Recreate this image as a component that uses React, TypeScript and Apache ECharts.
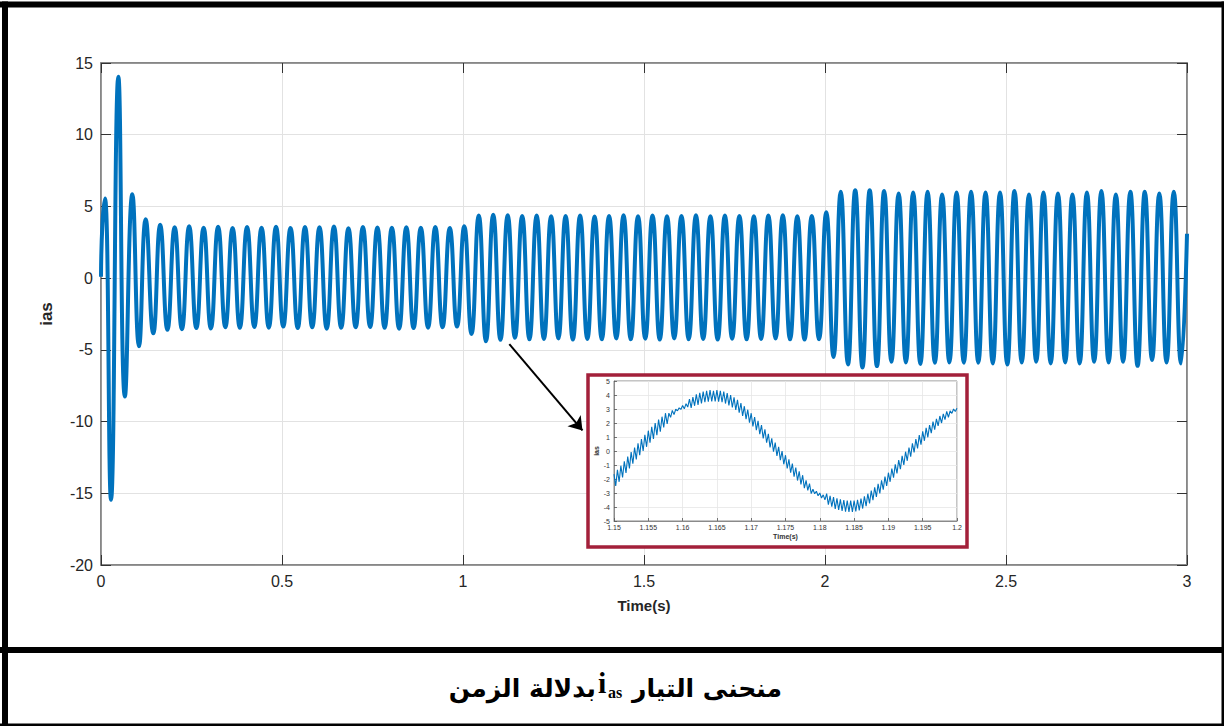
import React, { useEffect, useRef } from "react";
import * as echarts from "echarts";

// ---- Main signal (ias vs time) ----
// transient extrema
const transientTimes = [0, 0.004, 0.011, 0.0276, 0.048, 0.066, 0.0866, 0.105, 0.1234, 0.1445, 0.1635, 0.1835];
const transientValues = [0.1, 3.8, 5.55, -15.45, 14.05, -8.25, 5.85, -4.75, 4.1, -3.85, 3.72, -3.6];

// steady-state oscillation: 25 Hz, one peak + one trough per cycle
const cyclePeriod = 0.04;
const firstSteadyPeak = 0.2035;
const firstSteadyTrough = 0.2235;

const peaksStage1 = [3.55, 3.62, 3.52, 3.58, 3.5, 3.57, 3.52, 3.59, 3.5, 3.57, 3.55, 3.6, 3.48, 3.57, 3.53, 3.52, 3.55, 3.52, 3.57, 3.5, 3.62];
const troughsStage1 = [-3.56, -3.48, -3.51, -3.42, -3.46, -3.4, -3.45, -3.38, -3.48, -3.42, -3.52, -3.46, -3.42, -3.4, -3.46, -3.52, -3.48, -3.45, -3.42, -3.38];
const peaksStage2 = [4.36, 4.42, 4.38, 4.34, 4.36, 4.32, 4.34, 4.36, 4.3, 4.34, 4.38, 4.32, 4.36, 4.32, 4.34, 4.38, 4.32, 4.36, 4.34, 4.32, 4.36, 4.38, 4.32, 4.34, 4.6];
const troughsStage2 = [-3.9, -4.4, -4.3, -4.16, -4.26, -4.24, -4.2, -4.28, -4.24, -4.26, -4.2, -4.26, -4.22, -4.28, -4.2, -4.26, -4.24, -4.28, -4.22, -4.26, -4.24, -4.2, -4.26, -4.28, -4.26];
const peaksStage3 = [6.02, 6.13, 6.13, 6.08, 5.9, 5.97, 6.02, 5.83, 5.97, 6.02, 5.97, 5.97, 6.08, 5.83, 5.97, 5.9, 5.83, 5.97, 6.08, 5.83, 6.02, 6.02, 5.9, 6.02];
const troughsStage3 = [-5.5, -6.02, -6.23, -6.13, -5.83, -5.88, -5.98, -5.9, -5.88, -5.9, -5.9, -5.95, -6.02, -5.88, -5.83, -5.95, -5.88, -5.95, -5.83, -5.88, -5.83, -6.11, -5.71, -5.88, -5.95];
const endTime = 3.0;
const endValue = 3.1;

// ---- Inset (zoom 1.15 s .. 1.2 s) ----
const insetStart = 1.15;
const insetStep = 0.00025;
const insetValues = [
  -1.65, -2.5, -1.35, -2.2, -1.05, -1.89, -0.73, -1.56, -0.4, -1.24, -0.08, -0.91,
  0.25, -0.6, 0.55, -0.3, 0.85, 0.0, 1.15, 0.3, 1.45, 0.59, 1.73, 0.86,
  2.0, 1.13, 2.25, 1.38, 2.45, 1.68, 2.7, 1.93, 2.7, 2.4, 2.9, 2.6,
  2.98, 2.87, 3.08, 2.97, 3.25, 3.01, 3.38, 3.14, 3.7, 3.08, 3.85, 3.23,
  4.05, 3.3, 4.15, 3.4, 4.25, 3.48, 4.3, 3.53, 4.35, 3.55, 4.3, 3.55,
  4.35, 3.53, 4.3, 3.48, 4.25, 3.39, 4.13, 3.26, 4.0, 3.11, 3.83, 2.94,
  3.65, 2.74, 3.43, 2.51, 3.2, 2.28, 2.95, 2.03, 2.7, 1.76, 2.43, 1.49,
  2.15, 1.2, 1.85, 0.9, 1.55, 0.59, 1.23, 0.26, 0.9, -0.05, 0.6, -0.35,
  0.3, -0.65, 0.0, -0.95, -0.3, -1.25, -0.6, -1.55, -0.9, -1.84, -1.18, -2.11,
  -1.45, -2.39, -1.73, -2.66, -2.1, -2.81, -2.33, -3.04, -2.73, -3.05, -2.88, -3.2,
  -3.0, -3.36, -3.13, -3.49, -3.05, -3.83, -3.2, -3.98, -3.3, -4.14, -3.38, -4.21,
  -3.45, -4.28, -3.5, -4.33, -3.55, -4.35, -3.55, -4.35, -3.55, -4.31, -3.48, -4.24,
  -3.4, -4.11, -3.23, -3.94, -3.05, -3.74, -2.83, -3.51, -2.6, -3.28, -2.35, -3.03,
  -2.1, -2.76, -1.83, -2.49, -1.55, -2.2, -1.25, -1.9, -0.95, -1.6, -0.65, -1.3,
  -0.35, -1.0, -0.05, -0.7, 0.25, -0.4, 0.55, -0.1, 0.85, 0.19, 1.13, 0.46,
  1.4, 0.73, 1.65, 0.98, 1.85, 1.28, 2.1, 1.53, 2.3, 1.8, 2.5, 2.0,
  2.65, 2.24, 2.83, 2.41, 2.87, 2.69, 3.0, 2.82, 3.05,
];

// arrow from the main curve to the inset (data coordinates of start and arrow-head centre)
const arrowFrom = [1.128, -4.6];
const arrowTo = [1.33, -10.62];

const captionRight = "منحنى التيار";
const captionLeft = "بدلالة الزمن";
const captionSymbol = "i";
const captionSub = "as";

function buildMain(): number[][] {
  const d: number[][] = [];
  transientTimes.forEach((t, i) => d.push([t, transientValues[i]]));
  const peaks = [...peaksStage1, ...peaksStage2, ...peaksStage3];
  const troughs = [...troughsStage1, ...troughsStage2, ...troughsStage3];
  for (let k = 0; k < peaks.length; k++) {
    d.push([+(firstSteadyPeak + k * cyclePeriod).toFixed(4), peaks[k]]);
    d.push([+(firstSteadyTrough + k * cyclePeriod).toFixed(4), troughs[k]]);
  }
  d.push([endTime, endValue]);
  return d;
}

function buildInset(): number[][] {
  return insetValues.map((v, i) => [+(insetStart + i * insetStep).toFixed(5), v]);
}

const SANS = "'Liberation Sans', Arial, sans-serif";
const LABEL = "#262626";
const AXIS = "#7f7f7f";
const GRIDC = "#e2e2e2";
const BLUE = "#0072BD";

export default function App() {
  const ref = useRef<HTMLDivElement>(null);
  useEffect(() => {
    const chart = echarts.init(ref.current!, null, { renderer: "svg" });
    const mainGrid = { left: 101, top: 63, width: 1086, height: 502 };
    const insetGrid = { left: 614, top: 381, width: 343, height: 140 };
    const option: any = {
      animation: false,
      backgroundColor: "#ffffff",
      grid: [
        { ...mainGrid, show: true, borderColor: AXIS, borderWidth: 1.5, z: 0 },
        { ...insetGrid, show: true, borderColor: "#8a8a8a", borderWidth: 1, backgroundColor: "#fff", z: 20 },
      ],
      xAxis: [
        {
          gridIndex: 0, type: "value", min: 0, max: 3, interval: 0.5,
          axisLine: { show: true, onZero: false, lineStyle: { color: AXIS, width: 1.5 } },
          axisTick: { show: true, inside: true, length: 10, lineStyle: { color: "#333", width: 1 } },
          axisLabel: { color: LABEL, fontSize: 16, fontFamily: SANS, margin: 8 },
          splitLine: { show: true, lineStyle: { color: GRIDC, width: 1 } },
          name: "Time(s)", nameLocation: "middle", nameGap: 33,
          nameTextStyle: { fontWeight: "bold", fontSize: 15, color: LABEL, fontFamily: SANS },
        },
        {
          gridIndex: 0, type: "value", position: "top", min: 0, max: 3, interval: 0.5,
          axisLine: { show: true, onZero: false, lineStyle: { color: AXIS, width: 1.5 } },
          axisTick: { show: true, inside: true, length: 10, lineStyle: { color: "#333", width: 1 } },
          axisLabel: { show: false }, splitLine: { show: false },
        },
        {
          gridIndex: 1, type: "value", min: 1.15, max: 1.2, interval: 0.005, z: 21,
          axisLine: { show: true, onZero: false, lineStyle: { color: "#8a8a8a", width: 1 } },
          axisTick: { show: true, inside: true, length: 3, lineStyle: { color: "#555", width: 0.8 } },
          axisLabel: { color: "#333", fontSize: 7, fontFamily: SANS, margin: 3, formatter: (v: number) => String(Math.round(v * 1000) / 1000) },
          splitLine: { show: true, lineStyle: { color: "#e6e6e6", width: 0.8 } },
          name: "Time(s)", nameLocation: "middle", nameGap: 12,
          nameTextStyle: { fontWeight: "bold", fontSize: 7, color: "#333", fontFamily: SANS },
        },
      ],
      yAxis: [
        {
          gridIndex: 0, type: "value", min: -20, max: 15, interval: 5,
          axisLine: { show: true, onZero: false, lineStyle: { color: AXIS, width: 1.5 } },
          axisTick: { show: true, inside: true, length: 10, lineStyle: { color: "#333", width: 1 } },
          axisLabel: { color: LABEL, fontSize: 16, fontFamily: SANS, margin: 8 },
          splitLine: { show: true, lineStyle: { color: GRIDC, width: 1 } },
          name: "ias", nameLocation: "middle", nameGap: 46,
          nameTextStyle: { fontWeight: "bold", fontSize: 17, color: LABEL, fontFamily: SANS },
        },
        {
          gridIndex: 0, type: "value", position: "right", min: -20, max: 15, interval: 5,
          axisLine: { show: true, onZero: false, lineStyle: { color: AXIS, width: 1.5 } },
          axisTick: { show: true, inside: true, length: 10, lineStyle: { color: "#333", width: 1 } },
          axisLabel: { show: false }, splitLine: { show: false },
        },
        {
          gridIndex: 1, type: "value", min: -5, max: 5, interval: 1, z: 21,
          axisLine: { show: true, onZero: false, lineStyle: { color: "#8a8a8a", width: 1 } },
          axisTick: { show: true, inside: true, length: 3, lineStyle: { color: "#555", width: 0.8 } },
          axisLabel: { color: "#333", fontSize: 7, fontFamily: SANS, margin: 4 },
          splitLine: { show: true, lineStyle: { color: "#e6e6e6", width: 0.8 } },
          name: "ias", nameLocation: "middle", nameGap: 11,
          nameTextStyle: { fontWeight: "bold", fontSize: 7, color: "#333", fontFamily: SANS },
        },
      ],
      series: [
        {
          type: "line", xAxisIndex: 0, yAxisIndex: 0, data: buildMain(),
          showSymbol: false, smooth: 0.5, z: 2,
          lineStyle: { color: BLUE, width: 4 },
          markLine: {
            silent: true, symbol: ["none", "arrow"], symbolSize: 13,
            label: { show: false },
            lineStyle: { color: "#000", width: 2, type: "solid" },
            data: [[{ coord: arrowFrom }, { coord: arrowTo }]],
          },
        },
        {
          type: "line", xAxisIndex: 2, yAxisIndex: 2, data: buildInset(),
          showSymbol: false, z: 22,
          lineStyle: { color: BLUE, width: 1.1 },
        },
      ],
      graphic: [
        { type: "rect", z: 15, shape: { x: 588, y: 375, width: 379, height: 172 }, style: { fill: "#fff", stroke: "#A3203A", lineWidth: 3.5 } },
        // frame
        { type: "rect", z: 40, shape: { x: 0, y: 1.5, width: 1224, height: 6 }, style: { fill: "#000" } },
        { type: "rect", z: 40, shape: { x: 2, y: 1.5, width: 6, height: 724.5 }, style: { fill: "#000" } },
        { type: "rect", z: 40, shape: { x: 0, y: 647, width: 1224, height: 6 }, style: { fill: "#000" } },
        { type: "rect", z: 40, shape: { x: 0, y: 723.5, width: 1224, height: 2.5 }, style: { fill: "#000" } },
        { type: "rect", z: 40, shape: { x: 1221.5, y: 1.5, width: 2.5, height: 724.5 }, style: { fill: "#000" } },
        // caption
        { type: "text", z: 40, x: 632, y: 688, style: { text: captionRight, fill: "#000", font: "bold 25px 'DejaVu Sans', sans-serif", align: "left", verticalAlign: "middle" } },
        { type: "text", z: 40, x: 596, y: 688, style: { text: captionLeft, fill: "#000", font: "bold 25px 'DejaVu Sans', sans-serif", align: "right", verticalAlign: "middle" } },
        { type: "text", z: 40, x: 598, y: 697, style: { text: captionSymbol, fill: "#000", font: "bold 30px 'Liberation Serif', serif", align: "left", verticalAlign: "bottom" } },
        { type: "text", z: 40, x: 608, y: 700, style: { text: captionSub, fill: "#000", font: "bold 16px 'Liberation Serif', serif", align: "left", verticalAlign: "bottom" } },
      ],
    };
    chart.setOption(option);
    return () => chart.dispose();
  }, []);
  return <div ref={ref} style={{ position: "fixed", left: 0, top: 0, width: 1224, height: 726, background: "#fff" }} />;
}
